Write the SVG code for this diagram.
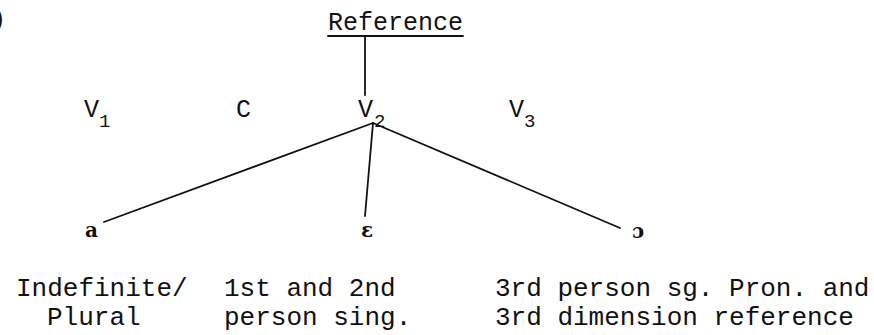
<svg xmlns="http://www.w3.org/2000/svg" width="874" height="335" viewBox="0 0 874 335">
  <style>
    .tw { font-family: "Liberation Mono", "DejaVu Sans Mono", monospace; fill: #111; }
    .head { font-size: 25px; }
    .sym { font-size: 25px; }
    .sub { font-size: 19px; }
    .ph { font-family: "DejaVu Serif", "Liberation Serif", serif; font-size: 20px; font-weight: bold; fill: #111; }
    .lbl { font-family: "Liberation Mono", "DejaVu Sans Mono", monospace; font-size: 26px; fill: #111; }
    .ln { stroke: #111; stroke-width: 1.8; fill: none; stroke-linecap: round; }
  </style>

  <!-- figure index fragment at the left edge -->
  <text class="tw head" x="-9" y="27">)</text>

  <g id="reference">
    <text class="tw head" x="328" y="30">Reference</text>
    <line class="ln" x1="328" y1="36" x2="463" y2="36"/>
  </g>

  <g id="v1">
    <text class="tw sym" x="84" y="117">V</text>
    <text class="tw sub" x="99" y="127">1</text>
  </g>
  <g id="c">
    <text class="tw sym" x="236" y="117">C</text>
  </g>
  <g id="v2">
    <text class="tw sym" x="358" y="117">V</text>
    <text class="tw sub" x="374" y="127">2</text>
  </g>
  <g id="v3">
    <text class="tw sym" x="509" y="117">V</text>
    <text class="tw sub" x="524" y="127">3</text>
  </g>

  <g id="vowel-a">
    <text class="ph" x="85" y="237">a</text>
  </g>
  <g id="vowel-e">
    <text class="ph" x="361" y="237">ɛ</text>
  </g>
  <g id="vowel-o">
    <text class="ph" x="632" y="238">ɔ</text>
  </g>

  <g id="label-a">
    <text class="lbl" x="16" y="296">Indefinite/</text>
    <text class="lbl" x="47" y="325">Plural</text>
  </g>
  <g id="label-e">
    <text class="lbl" x="224" y="296">1st and 2nd</text>
    <text class="lbl" x="224" y="325">person sing.</text>
  </g>
  <g id="label-o">
    <text class="lbl" x="495" y="296">3rd person sg. Pron. and</text>
    <text class="lbl" x="495" y="325">3rd dimension reference</text>
  </g>

  <g id="connectors">
    <line class="ln" x1="365" y1="37" x2="365" y2="95"/>
    <line class="ln" x1="373" y1="123" x2="104" y2="222"/>
    <line class="ln" x1="373" y1="123" x2="365" y2="216"/>
    <line class="ln" x1="373" y1="123" x2="620" y2="228"/>
  </g>
</svg>
